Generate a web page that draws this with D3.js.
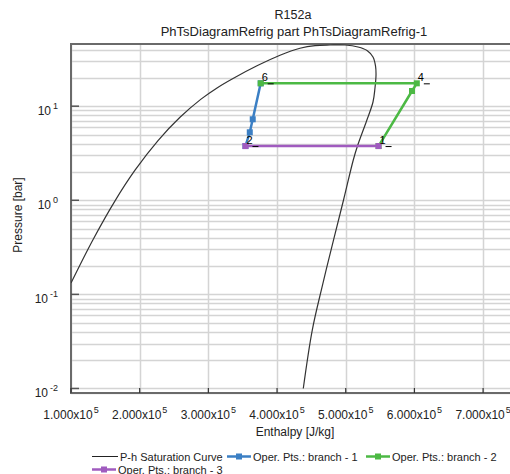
<!DOCTYPE html>
<html>
<head>
<meta charset="utf-8">
<script src="https://cdn.jsdelivr.net/npm/d3@7"></script>
<style>
  body { margin: 0; background: #fff; }
  text { font-family: "Liberation Sans", Arial, sans-serif; fill: #222; }
</style>
</head>
<body>
<svg id="chart" width="510" height="474"></svg>
<script>
// saturation dome (enthalpy J/kg, pressure bar)
const satH = [1.000e5, 1.320e5, 1.641e5, 1.932e5, 2.267e5, 2.587e5, 2.893e5, 3.126e5, 3.359e5, 3.708e5,
              4.043e5, 4.334e5, 4.553e5, 4.771e5, 4.990e5, 5.179e5, 5.310e5, 5.397e5, 5.434e5, 5.441e5,
              5.426e5, 5.397e5, 5.303e5, 5.171e5, 5.110e5, 4.968e5, 4.822e5, 4.662e5, 4.513e5, 4.382e5];
const satP = [0.132, 0.381, 0.987, 2.088, 4.31, 7.62, 11.89, 15.64, 19.70, 26.87,
              34.83, 41.24, 44.06, 44.7, 44.7, 42.6, 39.1, 33.3, 26.7, 21.45,
              15.6, 11.08, 6.96, 3.776, 2.681, 1.007, 0.378, 0.1257, 0.0418, 0.0100];

// operating point branches
const branch1H = [3.540e5, 3.603e5, 3.646e5, 3.762e5];
const branch1P = [3.77, 5.28, 7.26, 17.5];
const branch2H = [5.478e5, 5.965e5, 6.035e5, 3.762e5];
const branch2P = [3.77, 14.5, 17.5, 17.5];
const branch3H = [3.540e5, 5.478e5];
const branch3P = [3.77, 3.77];

// numbered state points
const pointNames = ["1", "2", "4", "6"];
const pointH = [5.478e5, 3.540e5, 6.035e5, 3.762e5];
const pointP = [3.77, 3.77, 17.5, 17.5];

const xTicks = [1e5, 2e5, 3e5, 4e5, 5e5, 6e5, 7e5];
const yTicks = [0.01, 0.1, 1, 10];
const yExp = ["-2", "-1", "0", "1"];
const seriesNames = ["P-h Saturation Curve", "Oper. Pts.: branch - 1", "Oper. Pts.: branch - 2", "Oper. Pts.: branch - 3"];
const seriesColors = ["#222222", "#3b7fc4", "#4cb944", "#a05bbf"];

const svg = d3.select("#chart");
const pLeft = 71, pRight = 514, pTop = 44, pBottom = 393;

const x = d3.scaleLinear().domain([1e5, 7.45e5]).range([pLeft, pRight]);
const y = d3.scaleLog().domain([0.00895, 45.8]).range([pBottom, pTop]);

// clip for plot contents
svg.append("defs").append("clipPath").attr("id", "plotclip")
  .append("rect").attr("x", pLeft).attr("y", pTop).attr("width", pRight - pLeft).attr("height", pBottom - pTop);

// titles
svg.append("text").attr("x", 293).attr("y", 19).attr("text-anchor", "middle")
  .style("font-size", "12.5px").text("R152a");
svg.append("text").attr("x", 294).attr("y", 36).attr("text-anchor", "middle")
  .style("font-size", "13px").text("PhTsDiagramRefrig part PhTsDiagramRefrig-1");

// grid
const grid = svg.append("g");
const minor = [];
for (let k = -3; k <= 1; k++) {
  for (let m = 1; m <= 9; m++) {
    const v = m * Math.pow(10, k);
    if (v > y.domain()[0] && v < y.domain()[1]) minor.push(v);
  }
}
grid.selectAll(".hg").data(minor).enter().append("line")
  .attr("x1", pLeft).attr("x2", pRight)
  .attr("y1", d => Math.round(y(d)) + 0.5).attr("y2", d => Math.round(y(d)) + 0.5)
  .attr("stroke", "#d4d4d4").attr("stroke-width", 1.5);
grid.selectAll(".vg").data(xTicks).enter().append("line")
  .attr("x1", d => Math.round(x(d)) + 0.5).attr("x2", d => Math.round(x(d)) + 0.5)
  .attr("y1", pTop).attr("y2", pBottom)
  .attr("stroke", "#d4d4d4").attr("stroke-width", 1.5);

// frame
svg.append("line").attr("x1", pLeft).attr("x2", pLeft).attr("y1", pTop - 1).attr("y2", pBottom + 1)
  .attr("stroke", "#6a6a6a").attr("stroke-width", 2);
svg.append("line").attr("x1", pLeft).attr("x2", 510).attr("y1", pBottom).attr("y2", pBottom)
  .attr("stroke", "#6a6a6a").attr("stroke-width", 2);
svg.append("line").attr("x1", pLeft).attr("x2", 510).attr("y1", pTop).attr("y2", pTop)
  .attr("stroke", "#6a6a6a").attr("stroke-width", 2);

// major ticks
svg.selectAll(".yt").data(yTicks).enter().append("line")
  .attr("x1", pLeft).attr("x2", pLeft + 8)
  .attr("y1", d => y(d)).attr("y2", d => y(d))
  .attr("stroke", "#555").attr("stroke-width", 1.5);
svg.selectAll(".xt").data(xTicks).enter().append("line")
  .attr("x1", d => x(d)).attr("x2", d => x(d))
  .attr("y1", pBottom).attr("y2", pBottom - 5)
  .attr("stroke", "#333").attr("stroke-width", 1.2);

// y tick labels
const yl = svg.selectAll(".yl").data(yTicks).enter().append("text")
  .attr("x", 58).attr("y", d => y(d) + 9).attr("text-anchor", "end")
  .style("font-size", "12px");
yl.append("tspan").text("10");
yl.append("tspan").attr("dy", -6).attr("dx", 2).style("font-size", "9px").text((d, i) => yExp[i]);

// x tick labels
const xl = svg.selectAll(".xl").data(xTicks).enter().append("text")
  .attr("x", d => x(d)).attr("y", 419).attr("text-anchor", "middle")
  .style("font-size", "12px");
xl.append("tspan").text(d => (d / 1e5).toFixed(3) + "x10");
xl.append("tspan").attr("dy", -6).attr("dx", 1).style("font-size", "9px").text("5");

// axis titles
svg.append("text").attr("x", 295).attr("y", 436).attr("text-anchor", "middle")
  .style("font-size", "12px").text("Enthalpy [J/kg]");
svg.append("text").attr("transform", "translate(22,215) rotate(-90)").attr("text-anchor", "middle")
  .style("font-size", "12px").text("Pressure [bar]");

// curves
const plot = svg.append("g").attr("clip-path", "url(#plotclip)");
const line = d3.line().x(d => x(d[0])).y(d => y(d[1]));

plot.append("path")
  .datum(d3.zip(satH, satP))
  .attr("d", line.curve(d3.curveCatmullRom.alpha(0.5)))
  .attr("fill", "none").attr("stroke", "#333").attr("stroke-width", 1.2);

const straight = d3.line().x(d => x(d[0])).y(d => y(d[1]));
const branches = [[branch1H, branch1P], [branch2H, branch2P], [branch3H, branch3P]];
branches.forEach((b, i) => {
  const pts = d3.zip(b[0], b[1]);
  const c = seriesColors[i + 1];
  plot.append("path").datum(pts).attr("d", straight)
    .attr("fill", "none").attr("stroke", c).attr("stroke-width", 2.5);
  plot.selectAll(".m" + i).data(pts).enter().append("rect")
    .attr("x", d => x(d[0]) - 3).attr("y", d => y(d[1]) - 3)
    .attr("width", 6).attr("height", 6).attr("fill", c);
});

// point labels
pointNames.forEach((n, i) => {
  const px = x(pointH[i]), py = y(pointP[i]);
  svg.append("text").attr("x", px + 1).attr("y", py - 2)
    .style("font-size", "11px").style("fill", "#000").text(n);
  svg.append("line").attr("x1", px + 7).attr("x2", px + 13)
    .attr("y1", py + 0.5).attr("y2", py + 0.5).attr("stroke", "#000").attr("stroke-width", 1);
});

// legend
const legendX = [92, 227, 366, 92];
const legendY = [456.5, 456.5, 456.5, 469.5];
seriesNames.forEach((name, i) => {
  const lx = legendX[i], ly = legendY[i];
  const w = i === 0 ? 26 : 24;
  svg.append("line").attr("x1", lx).attr("x2", lx + w).attr("y1", ly).attr("y2", ly)
    .attr("stroke", seriesColors[i]).attr("stroke-width", i === 0 ? 1 : 2.5);
  if (i > 0) {
    svg.append("rect").attr("x", lx + w / 2 - 3).attr("y", ly - 3).attr("width", 6).attr("height", 6)
      .attr("fill", seriesColors[i]);
  }
  svg.append("text").attr("x", lx + w + 2).attr("y", ly + 4)
    .style("font-size", "11px").text(name);
});
</script>
</body>
</html>
